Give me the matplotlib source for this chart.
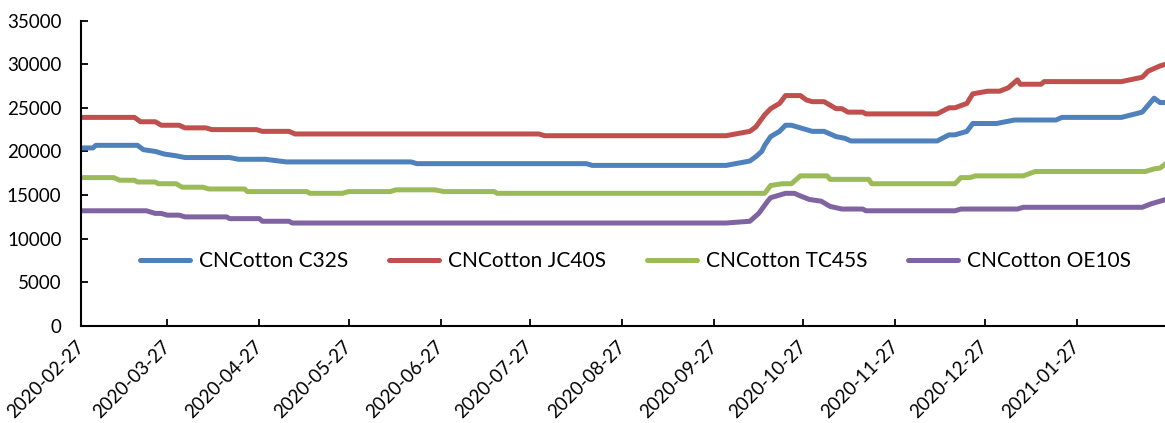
import matplotlib
matplotlib.use("Agg")
import matplotlib.pyplot as plt
import matplotlib.dates as mdates
import pandas as pd

plt.rcParams["font.family"] = ["Lato", "DejaVu Sans"]

# Yarn price series (CNY/ton), breakpoints of each curve
c32s_dates = ["2020-02-27", "2020-03-02", "2020-03-03", "2020-03-17", "2020-03-19", "2020-03-23",
              "2020-03-26", "2020-03-30", "2020-04-02", "2020-04-17", "2020-04-20", "2020-04-29",
              "2020-05-06", "2020-06-17", "2020-06-19", "2020-08-15", "2020-08-17", "2020-10-01",
              "2020-10-09", "2020-10-11", "2020-10-13", "2020-10-14", "2020-10-16", "2020-10-19",
              "2020-10-21", "2020-10-23", "2020-10-26", "2020-10-30", "2020-11-03", "2020-11-07",
              "2020-11-10", "2020-11-12", "2020-12-11", "2020-12-15", "2020-12-17", "2020-12-21",
              "2020-12-23", "2020-12-31", "2021-01-06", "2021-01-20", "2021-01-22", "2021-02-11",
              "2021-02-18", "2021-02-22", "2021-02-24", "2021-02-26"]
c32s_values = [20400, 20400, 20700, 20700, 20200, 20000,
               19700, 19500, 19300, 19300, 19100, 19100,
               18800, 18800, 18600, 18600, 18400, 18400,
               18900, 19400, 20000, 20700, 21700, 22300,
               23000, 23000, 22700, 22300, 22300, 21700,
               21500, 21200, 21200, 21900, 21900, 22300,
               23200, 23200, 23600, 23600, 23900, 23900,
               24500, 26100, 25600, 25600]

jc40s_dates = ["2020-02-27", "2020-03-16", "2020-03-18", "2020-03-23", "2020-03-25", "2020-03-31",
               "2020-04-02", "2020-04-09", "2020-04-11", "2020-04-26", "2020-04-28", "2020-05-07",
               "2020-05-09", "2020-07-30", "2020-08-01", "2020-10-01", "2020-10-09", "2020-10-11",
               "2020-10-14", "2020-10-16", "2020-10-19", "2020-10-21", "2020-10-26", "2020-10-28",
               "2020-10-30", "2020-11-03", "2020-11-07", "2020-11-09", "2020-11-11", "2020-11-16",
               "2020-11-17", "2020-12-11", "2020-12-15", "2020-12-17", "2020-12-21", "2020-12-23",
               "2020-12-28", "2021-01-01", "2021-01-04", "2021-01-07", "2021-01-08", "2021-01-15",
               "2021-01-16", "2021-02-11", "2021-02-18", "2021-02-20", "2021-02-24", "2021-02-26"]
jc40s_values = [23900, 23900, 23400, 23400, 23000, 23000,
                22700, 22700, 22500, 22500, 22300, 22300,
                22000, 22000, 21800, 21800, 22300, 22800,
                24200, 24900, 25500, 26400, 26400, 25900,
                25700, 25700, 24900, 24900, 24500, 24500,
                24300, 24300, 25000, 25000, 25500, 26600,
                26900, 26900, 27300, 28200, 27700, 27700,
                28000, 28000, 28500, 29200, 29800, 30000]

tc45s_dates = ["2020-02-27", "2020-03-09", "2020-03-11", "2020-03-16", "2020-03-17", "2020-03-23",
               "2020-03-24", "2020-03-30", "2020-04-01", "2020-04-08", "2020-04-10", "2020-04-22",
               "2020-04-23", "2020-05-13", "2020-05-14", "2020-05-25", "2020-05-27", "2020-06-10",
               "2020-06-12", "2020-06-25", "2020-06-28", "2020-07-15", "2020-07-16", "2020-10-14",
               "2020-10-16", "2020-10-20", "2020-10-23", "2020-10-26", "2020-11-04", "2020-11-05",
               "2020-11-18", "2020-11-19", "2020-12-17", "2020-12-19", "2020-12-22", "2020-12-24",
               "2021-01-09", "2021-01-13", "2021-02-19", "2021-02-22", "2021-02-24", "2021-02-26"]
tc45s_values = [17000, 17000, 16700, 16700, 16500, 16500,
                16300, 16300, 15900, 15900, 15700, 15700,
                15400, 15400, 15200, 15200, 15400, 15400,
                15600, 15600, 15400, 15400, 15200, 15200,
                16100, 16300, 16300, 17200, 17200, 16800,
                16800, 16300, 16300, 17000, 17000, 17200,
                17200, 17700, 17700, 18000, 18100, 18600]

oe10s_dates = ["2020-02-27", "2020-03-20", "2020-03-23", "2020-03-25", "2020-03-27", "2020-03-31",
               "2020-04-02", "2020-04-16", "2020-04-17", "2020-04-27", "2020-04-28", "2020-05-07",
               "2020-05-08", "2020-10-01", "2020-10-09", "2020-10-12", "2020-10-15", "2020-10-16",
               "2020-10-19", "2020-10-21", "2020-10-24", "2020-10-26", "2020-10-29", "2020-11-02",
               "2020-11-05", "2020-11-09", "2020-11-16", "2020-11-17", "2020-12-17", "2020-12-19",
               "2021-01-07", "2021-01-09", "2021-02-18", "2021-02-21", "2021-02-23", "2021-02-26"]
oe10s_values = [13200, 13200, 12900, 12900, 12700, 12700,
                12500, 12500, 12300, 12300, 12000, 12000,
                11800, 11800, 12000, 12900, 14300, 14700,
                15000, 15200, 15200, 14900, 14500, 14300,
                13700, 13400, 13400, 13200, 13200, 13400,
                13400, 13600, 13600, 14000, 14200, 14500]

series = [
    ("CNCotton C32S", c32s_dates, c32s_values, "#4F81BD"),
    ("CNCotton JC40S", jc40s_dates, jc40s_values, "#C0504D"),
    ("CNCotton TC45S", tc45s_dates, tc45s_values, "#9BBB59"),
    ("CNCotton OE10S", oe10s_dates, oe10s_values, "#8064A2"),
]

W, H = 1165, 423
fig = plt.figure(figsize=(W / 100, H / 100), dpi=100)
ax = fig.add_axes([81 / W, 97 / H, 1085 / W, 305.5 / H])

for name, d, v, c in series:
    ax.plot(pd.to_datetime(d), v, color=c, lw=3.6, label=name,
            solid_joinstyle="round", solid_capstyle="round")

ax.set_xlim(pd.Timestamp("2020-02-27"), pd.Timestamp("2021-02-26"))
ax.set_ylim(0, 35000)
ax.set_yticks(range(0, 35001, 5000))
ax.xaxis.set_major_locator(mdates.MonthLocator(bymonthday=27))
ax.xaxis.set_major_formatter(mdates.DateFormatter("%Y-%m-%d"))

for s in ("top", "right"):
    ax.spines[s].set_visible(False)
for s in ("left", "bottom"):
    ax.spines[s].set_linewidth(1.5)
    ax.spines[s].set_color("black")

ax.tick_params(axis="both", direction="in", length=5, width=1.3, labelsize=13.5, colors="black")
ax.tick_params(axis="y", pad=14)
ax.tick_params(axis="x", pad=13)
for lbl in ax.get_xticklabels():
    lbl.set_rotation(45)
    lbl.set_ha("right")
    lbl.set_va("center")
    lbl.set_rotation_mode("anchor")

ax.legend(loc="center", bbox_to_anchor=(0.511, 0.212), ncol=4, frameon=False,
          fontsize=15, handlelength=2.4, handletextpad=0.43, columnspacing=1.97,
          borderpad=0, borderaxespad=0)

fig.savefig("out.png", dpi=100)
